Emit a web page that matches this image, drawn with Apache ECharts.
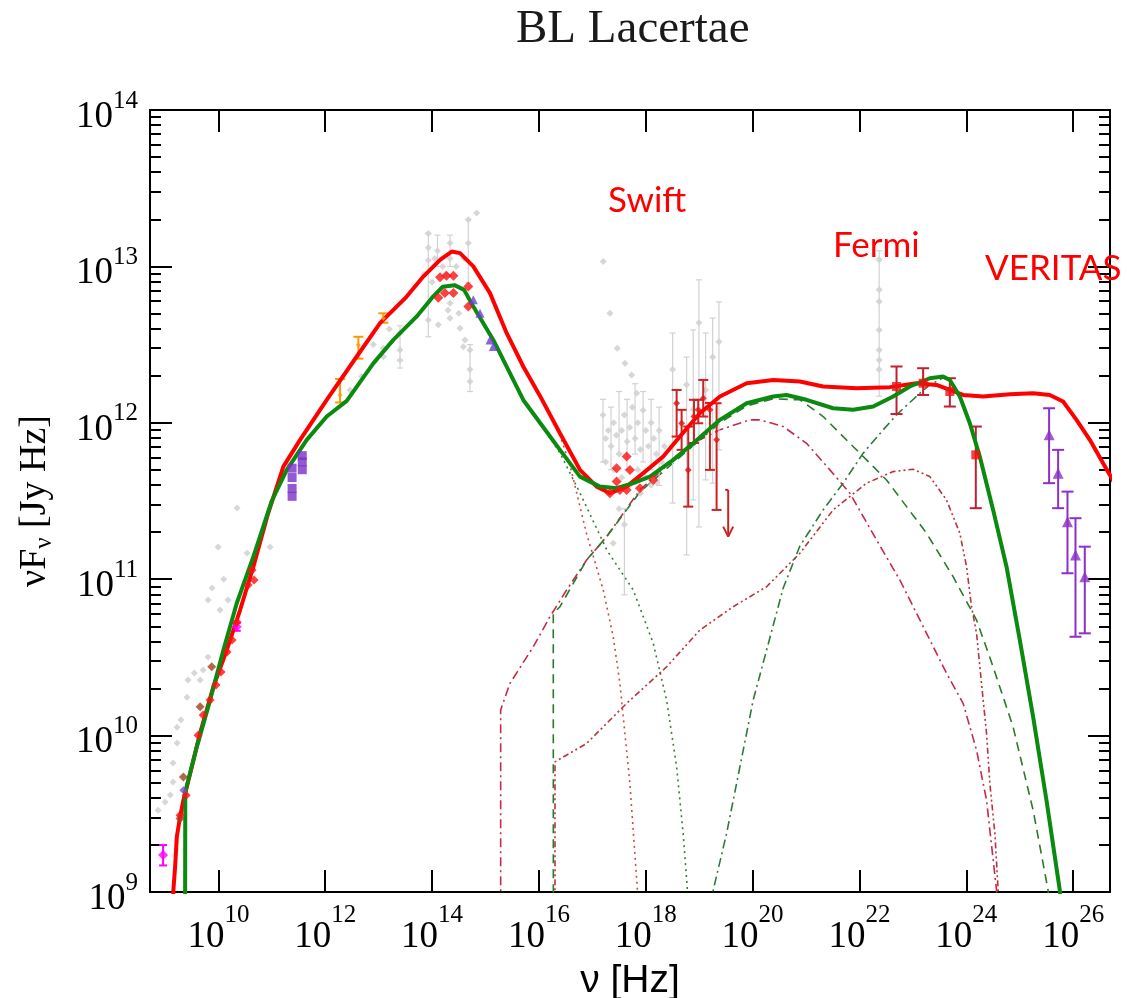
<!DOCTYPE html>
<html><head><meta charset="utf-8">
<script src="https://cdn.jsdelivr.net/npm/echarts@6/dist/echarts.min.js"></script>
<style>html,body{margin:0;padding:0;background:#fff}#c{width:1127px;height:998px}</style>
</head><body><div id="c"></div>
<script>
// All values below as [log10(nu/Hz), log10(nuFnu/Jy Hz)] (+ [lo, hi] for error bars)
const xMinExp = 8.72, xMaxExp = 26.69, yMinExp = 9, yMaxExp = 14;

const modelRedTotal = [[9.15,8.8],[9.158,9.012],[9.19,9.161],[9.222,9.353],[9.283,9.481],[9.345,9.587],[9.409,9.672],[9.658,10.016],[9.906,10.312],[10.157,10.547],[10.406,10.803],[10.655,11.08],[10.93,11.42],[11.216,11.72],[11.529,11.891],[12.028,12.147],[12.59,12.424],[13.026,12.637],[13.525,12.807],[13.836,12.935],[14.149,13.042],[14.367,13.095],[14.523,13.085],[14.772,13.0],[15.084,12.829],[15.397,12.573],[15.707,12.36],[16.02,12.172],[16.394,11.933],[16.769,11.699],[17.081,11.592],[17.33,11.55],[17.642,11.592],[17.953,11.678],[18.327,11.784],[18.639,11.912],[19.013,12.061],[19.388,12.168],[19.888,12.253],[20.386,12.274],[20.885,12.264],[21.321,12.232],[21.946,12.221],[22.569,12.228],[23.069,12.253],[23.443,12.242],[23.692,12.21],[23.941,12.178],[24.315,12.168],[24.815,12.183],[25.251,12.189],[25.563,12.178],[25.812,12.136],[26.063,12.019],[26.312,11.891],[26.561,11.742],[26.8,11.6]];
const modelGreenTotal = [[9.377,8.8],[9.38,9.64],[9.596,9.928],[9.845,10.227],[10.094,10.547],[10.344,10.846],[10.655,11.144],[10.999,11.5],[11.28,11.699],[11.654,11.891],[12.028,12.04],[12.403,12.14],[12.9,12.38],[13.275,12.53],[13.713,12.68],[14.0,12.8],[14.2,12.87],[14.42,12.88],[14.6,12.85],[14.772,12.743],[15.146,12.53],[15.52,12.274],[15.707,12.146],[16.02,12.0],[16.394,11.827],[16.769,11.656],[17.143,11.592],[17.455,11.582],[17.766,11.614],[18.078,11.656],[18.514,11.763],[18.888,11.869],[19.388,12.019],[19.888,12.125],[20.386,12.168],[20.636,12.178],[21.01,12.147],[21.508,12.093],[21.882,12.083],[22.257,12.104],[22.631,12.168],[22.943,12.232],[23.317,12.285],[23.566,12.296],[23.692,12.274],[23.879,12.168],[24.066,11.997],[24.253,11.784],[24.502,11.443],[24.753,11.08],[25.002,10.611],[25.251,10.12],[25.501,9.587],[25.75,9.012],[25.8,8.8]];
const syncRed = [[15.397,12.573],[15.707,12.36],[16.02,12.172],[16.394,11.92],[16.58,11.73],[16.89,11.294],[17.204,10.931],[17.391,10.632],[17.516,10.334],[17.703,9.694],[17.84,9.033],[17.87,8.8]];
const syncGreen = [[15.52,12.274],[15.707,12.146],[16.02,12.0],[16.39,11.81],[16.77,11.55],[17.27,11.187],[17.766,10.931],[18.14,10.59],[18.39,10.227],[18.578,9.8],[18.70,9.374],[18.776,9.033],[18.8,8.8]];
const sscRed = [[15.284,8.8],[15.284,10.163],[15.458,10.334],[15.894,10.568],[16.207,10.76],[16.519,10.931],[16.894,11.123],[17.268,11.272],[17.891,11.571],[18.514,11.763],[19.013,11.891],[19.388,11.955],[19.949,12.019],[20.136,12.019],[20.572,11.976],[21.01,11.869],[21.446,11.699],[21.82,11.55],[22.32,11.251],[22.756,10.995],[23.256,10.654],[23.63,10.398],[23.941,10.206],[24.192,9.907],[24.379,9.587],[24.566,9.012],[24.6,8.8]];
const sscGreen = [[16.27,8.8],[16.269,10.782],[16.394,10.824],[16.894,11.123],[17.268,11.272],[17.891,11.558],[18.514,11.744],[19.388,12.0],[19.888,12.108],[20.386,12.153],[20.885,12.147],[21.321,12.04],[21.633,11.933],[22.133,11.763],[22.507,11.634],[22.882,11.464],[23.256,11.294],[23.754,11.016],[24.192,10.739],[24.502,10.44],[24.876,10.056],[25.251,9.523],[25.531,9.012],[25.56,8.8]];
const ecRed = [[16.301,8.8],[16.301,9.832],[16.894,9.95],[17.642,10.206],[18.391,10.44],[19.013,10.675],[19.637,10.824],[20.262,10.952],[20.885,11.166],[21.508,11.443],[22.133,11.614],[22.631,11.688],[23.005,11.703],[23.317,11.656],[23.63,11.507],[23.879,11.294],[24.005,11.08],[24.098,10.824],[24.192,10.654],[24.285,10.334],[24.379,10.014],[24.441,9.694],[24.535,9.374],[24.596,9.012],[24.62,8.8]];
const ecGreen = [[19.25,8.8],[19.263,9.012],[19.513,9.374],[19.762,9.8],[20.011,10.227],[20.262,10.547],[20.573,10.944],[20.885,11.212],[21.321,11.443],[21.695,11.614],[22.07,11.806],[22.444,11.955],[22.694,12.051],[23.131,12.189],[23.317,12.243],[23.566,12.287],[23.692,12.268],[23.879,12.166],[24.066,11.993],[24.253,11.782],[24.502,11.443],[24.753,11.08],[25.002,10.611],[25.251,10.12],[25.501,9.587],[25.75,9.012],[25.8,8.8]];

// archival (grey) data
const greyPoints = [[8.872,9.523],[9.003,9.575],[9.152,9.703],[9.152,9.825],[9.227,9.952],[9.227,10.054],[9.414,10.246],[9.433,10.355],[9.658,10.355],[9.714,10.419],[9.807,10.502],[9.882,10.944],[9.807,10.867],[10.032,10.803],[9.994,11.206],[10.181,10.867],[10.35,11.455],[10.537,11.167],[10.968,11.206],[9.1,9.62],[9.3,10.1],[9.55,10.4],[10.1,11.0],
 [12.464,12.21],[12.683,12.296],[13.088,12.477],[13.088,12.423],[13.4,12.573],[13.4,12.466],[13.4,12.4],[12.9,12.5],[13.2,12.6],
 [13.93,13.21],[13.93,13.12],[13.93,13.04],[13.93,12.658],[14.117,12.627],[14.336,13.149],[14.336,13.05],[14.336,12.765],[14.336,12.669],[14.523,12.605],[14.678,13.298],[14.678,13.149],[14.835,13.341],[14.616,12.53],[14.71,12.466],[14.71,12.34],[14.71,12.264],[14.585,12.487],[14.2,13.0],[14.25,12.95],[14.1,13.1],[14.45,13.0],[14.0,12.9],[14.05,13.05],[14.3,12.72],[14.5,12.7],[14.6,13.05],[13.85,12.95],
 [17.204,13.031],[17.33,12.701],[17.466,12.477],[17.61,12.381],[17.736,12.306],[17.83,12.189],
 [17.2,12.05],[17.25,11.9],[17.3,11.95],[17.35,11.85],[17.4,12.0],[17.45,11.92],[17.5,11.8],[17.55,11.95],[17.6,12.05],[17.65,11.88],[17.7,11.97],[17.75,12.1],[17.8,11.9],[17.85,12.0],[17.9,11.83],[17.95,12.08],[18.0,11.95],[18.05,11.85],[18.1,12.0],[18.15,11.9],[18.2,11.8],[18.25,11.95],[18.3,11.75],[18.35,11.85],[17.25,11.75],[17.4,11.7],[17.55,11.65],[17.7,11.6],[17.85,11.7],[18.0,11.65],[17.3,11.55],[17.5,11.45],[17.6,11.35],[17.9,11.55],[18.1,11.6],[18.2,11.62],[17.39,11.23],
 [18.503,12.34],[18.765,12.243],[18.888,12.083],[18.995,12.64],[19.12,12.21],[19.252,12.42],[19.37,12.518],
 [22.369,13.042],[22.369,12.85],[22.369,12.775],[22.369,12.594],[22.369,12.466],[22.369,12.402],[22.369,12.34]];
const greyBars = [[13.93,12.9,12.55,13.21],[14.678,13.1,12.895,13.3],[13.4,12.47,12.35,12.62],[14.71,12.35,12.2,12.5],[14.1,13.1,13.0,13.2],[14.336,13.1,13.0,13.2],
 [17.2,11.95,11.75,12.15],[17.35,11.9,11.7,12.1],[17.5,12.0,11.8,12.2],[17.65,11.95,11.7,12.15],[17.8,12.05,11.8,12.25],[17.95,12.0,11.75,12.2],[18.1,11.95,11.7,12.15],[18.25,11.9,11.6,12.1],[17.6,11.2,10.9,11.45],
 [18.503,12.34,11.487,12.574],[18.765,12.243,11.155,12.42],[18.888,12.083,11.507,12.594],[18.995,12.64,11.334,12.914],[19.12,12.21,11.635,12.574],[19.252,12.42,11.614,12.67],[19.37,12.518,11.827,12.773],
 [22.369,12.6,12.17,13.1]];

// this work
const radioRed = [[9.283,9.491],[9.396,9.619],[9.62,10.003],[9.714,10.131],[9.845,10.227],[9.957,10.323],[10.05,10.406],[10.162,10.534],[10.256,10.611],[10.35,10.726],[10.556,10.963],[10.631,11.059],[10.668,10.995]];
const radioBrown = [[9.345,9.736],[9.876,10.44],[9.658,10.184],[9.283,9.47]];
const magentaPts = [[8.965,9.236,9.17,9.30],[10.344,10.696,10.67,10.72]];
const bluePts = [[9.345,9.651]];
const irSquares = [[11.38,11.71],[11.38,11.65],[11.38,11.58],[11.38,11.53],[11.57,11.79],[11.57,11.75],[11.57,11.70]];
const orangePts = [[12.278,12.178,12.13,12.28],[12.62,12.498,12.41,12.55],[13.088,12.669,12.64,12.70]];
const opticalRed = [[14.15,12.93],[14.27,12.94],[14.40,12.94],[14.117,12.80],[14.24,12.83],[14.40,12.83],[14.678,12.871],[14.678,12.743]];
const uvViolet = [[14.772,12.786],[14.897,12.701],[15.084,12.53],[15.146,12.488]];
const swiftRed = [[17.33,11.55],[17.455,11.71],[17.517,11.571],[17.642,11.784],[17.704,11.699],[17.455,11.624],[17.891,11.582],[18.14,11.635],[17.642,11.571]];
const hardXRed = [[18.578,12.125,11.912,12.21],[18.671,11.997,11.827,12.083],[18.795,11.699,11.464,11.976],[18.902,12.04,11.871,12.147],[18.982,12.083,11.997,12.147],[19.076,12.157,12.04,12.274],[19.201,12.083,11.699,12.127],[19.326,11.891,11.443,12.125]];
const upperLimit = [[19.543,11.571,11.272]];
const fermiRed = [[22.694,12.232,12.056,12.36],[23.192,12.253,12.178,12.349],[23.692,12.2,12.104,12.285],[24.178,11.795,11.454,11.976]];
const veritas = [[25.55,11.923,11.614,12.093],[25.719,11.678,11.454,11.827],[25.894,11.368,11.038,11.56],[26.044,11.155,10.632,11.39],[26.218,11.016,10.654,11.208]];

const annotations = [['Swift',608,183],['Fermi',833,228],['VERITAS',985,251]];

// ---------- build ----------
const P10 = v => Math.pow(10, v);
const xy = a => a.map(p => [P10(p[0]), P10(p[1])]);
const xyErr = a => a.map(p => [P10(p[0]), P10(p[1]), P10(p[2]), P10(p[3])]);

function errRender(color, cap, width) {
  return function (params, api) {
    const x = api.value(0), lo = api.value(2), hi = api.value(3);
    const a = api.coord([x, lo]), b = api.coord([x, hi]);
    const st = {stroke: color, lineWidth: width, fill: null};
    return {type: 'group', children: [
      {type: 'line', shape: {x1: a[0], y1: a[1], x2: b[0], y2: b[1]}, style: st},
      {type: 'line', shape: {x1: a[0]-cap, y1: a[1], x2: a[0]+cap, y2: a[1]}, style: st},
      {type: 'line', shape: {x1: b[0]-cap, y1: b[1], x2: b[0]+cap, y2: b[1]}, style: st}
    ]};
  };
}
function errSeries(data, color, cap, width) {
  return {type: 'custom', data: xyErr(data), renderItem: errRender(color, cap, width),
    encode: {x: 0, y: 1}, silent: true, z: 3};
}
function lineSeries(data, color, width, type, z) {
  return {type: 'line', data: xy(data), showSymbol: false, symbol: 'none', clip: true,
    lineStyle: {color: color, width: width, type: type}, silent: true, z: z || 2, smooth: false};
}
function scatter(data, symbol, size, color, z) {
  return {type: 'scatter', data: xy(data), symbol: symbol, symbolSize: size,
    itemStyle: {color: color}, silent: true, z: z || 4};
}

// tick labels: 10^n with superscript exponent
const expLabel = function (e) {
  const r = Math.round(e);
  if (Math.abs(e - r) > 0.01) return '';
  return '{b|10}{s|' + r + '}';
};
const richX = {
  b: {fontFamily: 'Liberation Serif', fontSize: 37, lineHeight: 37, padding: [20, 0, 0, 0], color: '#000'},
  s: {fontFamily: 'Liberation Serif', fontSize: 25, lineHeight: 25, padding: [0, 0, 24, 0], color: '#000'}
};
const richY = {
  b: {fontFamily: 'Liberation Serif', fontSize: 37, lineHeight: 37, padding: [14, 0, 0, 0], color: '#000'},
  s: {fontFamily: 'Liberation Serif', fontSize: 25, lineHeight: 25, padding: [0, 0, 18, 0], color: '#000'}
};
const axLine = {show: true, onZero: false, lineStyle: {color: '#000', width: 2}};
const noLine = {show: false};
const axTick = {show: true, inside: true, length: 22, lineStyle: {color: '#000', width: 2}};

// data axes (log)
function xLogAxis(pos) {
  return {type: 'log', logBase: 10, position: pos, min: P10(xMinExp), max: P10(xMaxExp),
    axisLine: axLine, axisTick: {show: false}, axisLabel: {show: false}, splitLine: {show: false}, minorTick: {show: false}};
}
// decade-tick axes (exponent of the same log scale)
function xExpAxis(pos, showLab) {
  return {type: 'value', position: pos, min: xMinExp, max: xMaxExp, splitNumber: 9,
    axisLine: noLine, axisTick: axTick, splitLine: {show: false},
    axisLabel: {show: showLab, formatter: expLabel, rich: richX, margin: 17, showMinLabel: false, showMaxLabel: false},
    name: showLab ? 'ν [Hz]' : '', nameLocation: 'middle', nameGap: 70, nameMoveOverlap: false,
    nameTextStyle: {fontFamily: 'Liberation Sans', fontSize: 39, color: '#000'}};
}
function yAxisDef(pos, showLab) {
  return {type: 'log', logBase: 10, position: pos, min: P10(yMinExp), max: P10(yMaxExp), splitNumber: 5,
    axisLine: axLine, axisTick: axTick, splitLine: {show: false},
    minorTick: {show: true, splitNumber: 9, length: 11, lineStyle: {color: '#000', width: 2}},
    axisLabel: {show: showLab, formatter: v => expLabel(Math.log10(v)), rich: richY, margin: 12},
    name: showLab ? '{a|νF}{sub|ν}{a| [Jy Hz]}' : '', nameLocation: 'middle', nameGap: 96, nameRotate: 90, nameMoveOverlap: false,
    nameTextStyle: {rich: {
      a: {fontFamily: 'Liberation Serif', fontSize: 38, lineHeight: 38, color: '#000'},
      sub: {fontFamily: 'Liberation Serif', fontSize: 25, lineHeight: 25, padding: [18, 0, 0, 0], color: '#000'}
    }}};
}

const upperLimitSeries = {
  type: 'custom', data: upperLimit.map(p => [P10(p[0]), P10(p[1]), P10(p[2])]), encode: {x: 0, y: 1}, silent: true, z: 4,
  renderItem: function (params, api) {
    const x = api.value(0);
    const a = api.coord([x, api.value(1)]), b = api.coord([x, api.value(2)]);
    const st = {stroke: '#cc2222', lineWidth: 2, fill: null};
    return {type: 'group', children: [
      {type: 'line', shape: {x1: a[0], y1: a[1], x2: b[0], y2: b[1]}, style: st},
      {type: 'line', shape: {x1: a[0]-3, y1: a[1], x2: a[0], y2: a[1]}, style: st},
      {type: 'line', shape: {x1: b[0]-5, y1: b[1]-10, x2: b[0], y2: b[1]}, style: st},
      {type: 'line', shape: {x1: b[0]+5, y1: b[1]-10, x2: b[0], y2: b[1]}, style: st}
    ]};
  }
};

const option = {
  animation: false,
  backgroundColor: '#fff',
  title: {text: 'BL Lacertae', left: 511, top: 1,
    textStyle: {fontFamily: 'Liberation Serif', fontSize: 47, fontWeight: 'normal', color: '#1a1a1a'}},
  grid: {left: 150, right: 17, top: 110, bottom: 106, containLabel: false, outerBoundsMode: 'none'},
  xAxis: [xLogAxis('bottom'), xLogAxis('top'), xExpAxis('bottom', true), xExpAxis('top', false)],
  yAxis: [yAxisDef('left', true), yAxisDef('right', false)],
  graphic: annotations.map(a => ({type: 'text', left: a[1], top: a[2], z: 100,
    style: {text: a[0], fill: '#ff0000', font: '35px Lato'}})),
  series: [
    errSeries(greyBars, '#d2d2d2', 3, 1.2),
    scatter(greyPoints, 'diamond', 7, '#cdcdcd', 2),
    lineSeries(syncRed, '#d04a4a', 1.6, [2, 4]),
    lineSeries(syncGreen, '#3c7a3c', 1.6, [2, 4]),
    lineSeries(sscRed, '#c8284a', 1.6, [9, 4, 2, 4]),
    lineSeries(sscGreen, '#2a7a2a', 1.6, [9, 6]),
    lineSeries(ecRed, '#b8333a', 1.6, [6, 3, 2, 3, 2, 3]),
    lineSeries(ecGreen, '#2e7a3a', 1.6, [9, 4, 2, 4]),
    lineSeries(modelRedTotal, '#ff0000', 4, 'solid', 5),
    lineSeries(modelGreenTotal, '#0b8a10', 4, 'solid', 6),
    errSeries(magentaPts, '#ff00ff', 4, 2),
    scatter(magentaPts.map(p => [p[0], p[1]]), 'diamond', 10, '#ff00ff', 7),
    scatter(radioBrown, 'diamond', 9, '#a0401a', 7),
    scatter(radioRed, 'diamond', 9, '#ff1010', 7),
    scatter(bluePts, 'diamond', 8, '#7b4fd0', 7),
    scatter(irSquares, 'rect', 9, '#7b2fc8', 7),
    errSeries(orangePts, '#ff9900', 5, 2),
    scatter(orangePts.map(p => [p[0], p[1]]), 'diamond', 5, '#ff9900', 7),
    scatter(opticalRed, 'diamond', 10, '#ff1010', 7),
    scatter(uvViolet, 'triangle', 9, '#6a3fd0', 7),
    scatter(swiftRed, 'diamond', 10, '#ff1010', 7),
    errSeries(hardXRed, '#cc2222', 5, 2),
    scatter(hardXRed.map(p => [p[0], p[1]]), 'diamond', 7, '#e01818', 7),
    upperLimitSeries,
    errSeries(fermiRed, '#c02030', 6, 2),
    scatter(fermiRed.map(p => [p[0], p[1]]), 'rect', 9, '#ee1111', 7),
    errSeries(veritas, '#8b30c8', 6, 2),
    scatter(veritas.map(p => [p[0], p[1]]), 'triangle', 11, '#8b30c8', 7)
  ]
};
const chart = echarts.init(document.getElementById('c'), null, {renderer: 'canvas'});
chart.setOption(option);
</script></body></html>
